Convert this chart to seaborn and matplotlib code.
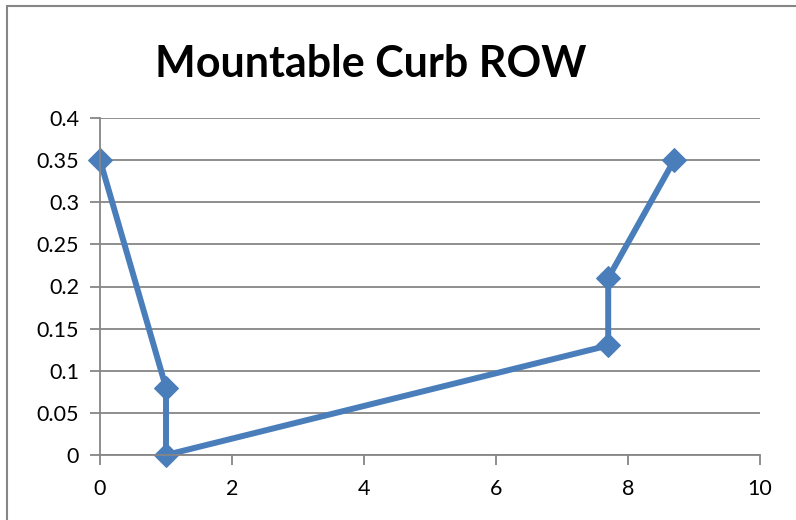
import numpy as np
import pandas as pd
import seaborn as sns
import matplotlib.pyplot as plt
from matplotlib.patches import Rectangle

# datos
x_vals = [0, 1, 1, 7.7, 7.7, 8.7]
y_vals = [0.35, 0.08, 0, 0.13, 0.21, 0.35]
x_ticks = [0, 2, 4, 6, 8, 10]
y_ticks = [0, 0.05, 0.1, 0.15, 0.2, 0.25, 0.3, 0.35, 0.4]
y_labels = ['0', '0.05', '0.1', '0.15', '0.2', '0.25', '0.3', '0.35', '0.4']

df = pd.DataFrame({'x': x_vals, 'y': y_vals})

sns.set_style('white')
plt.rcParams['font.family'] = ['Lato', 'DejaVu Sans']

gris = '#868686'
azul = '#4A7EBB'

fig = plt.figure(figsize=(7.96, 5.2), dpi=100)
ax = fig.add_axes([100 / 796, 1 - 455 / 520, 660 / 796, 337 / 520])

# linea con marcadores de diamante, en el orden de los datos
sns.lineplot(data=df, x='x', y='y', sort=False, estimator=None, color=azul,
             linewidth=4.3, marker='D', markersize=12, markeredgecolor=azul,
             clip_on=False, ax=ax)

ax.set_xlim(0, 10)
ax.set_ylim(0, 0.4)
ax.set_xticks(x_ticks)
ax.set_xticklabels([str(t) for t in x_ticks])
ax.set_yticks(y_ticks)
ax.set_yticklabels(y_labels)
ax.set_xlabel('')
ax.set_ylabel('')

ax.grid(axis='y', color=gris, linewidth=1.3)
ax.grid(axis='x', visible=False)
ax.set_axisbelow(True)
for lado in ['top', 'right']:
    ax.spines[lado].set_visible(False)
for lado in ['left', 'bottom']:
    ax.spines[lado].set_color(gris)
    ax.spines[lado].set_linewidth(1.3)

ax.tick_params(axis='both', length=7, width=1.3, color=gris, labelsize=15.5,
               labelcolor='black', direction='out', pad=8)
ax.tick_params(axis='x', bottom=True, pad=10)
ax.tick_params(axis='y', left=True)

fig.text(371 / 796, 1 - 64 / 520, 'Mountable Curb ROW', fontsize=31,
         fontweight='bold', color='black', ha='center', va='center')

# borde del area del grafico
fig.add_artist(Rectangle((7 / 796, -0.1), 2, 1 - 6 / 520 + 0.1,
                         transform=fig.transFigure, fill=False,
                         edgecolor=gris, linewidth=1.5))

fig.savefig('out.png', dpi=100)
